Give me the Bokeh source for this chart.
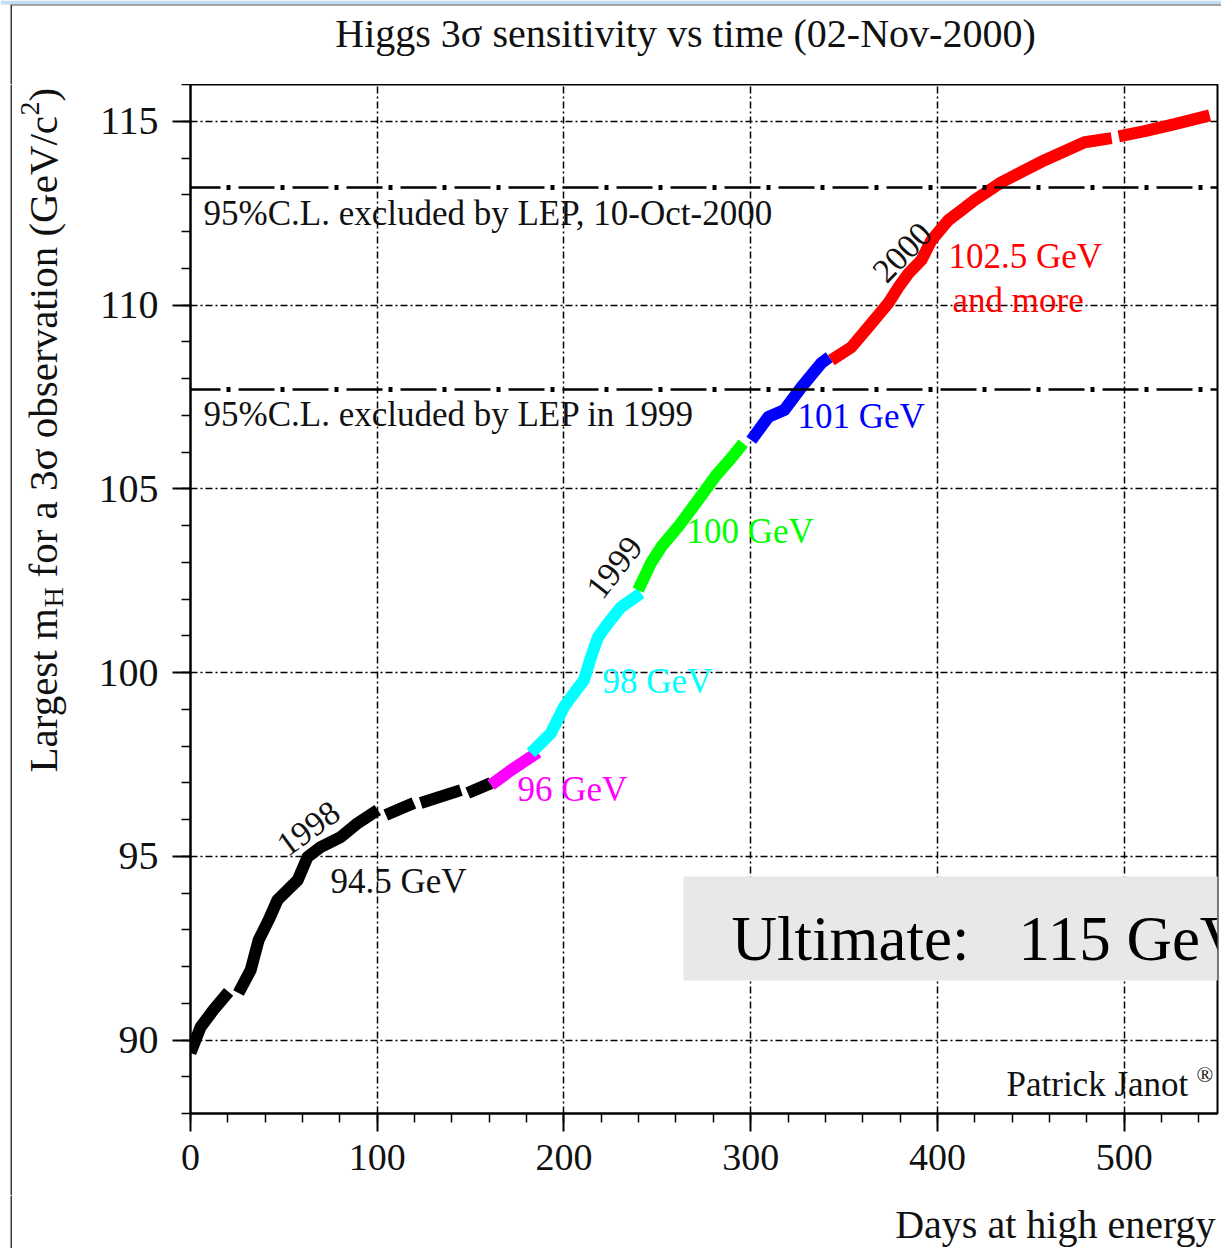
import math
from bokeh.plotting import figure
from bokeh.layouts import column, row
from bokeh.models import Label, BoxAnnotation, Span, FixedTicker, Range1d
from bokeh.embed import file_html
from bokeh.resources import INLINE

nan = float("nan")

# Sensitivity curve, split by centre-of-mass energy (days at high energy, GeV)
days_945 = [0, 5.4, 12.3, 20.4, nan, 25.7, 32.2, 36.5, 41.8, 46.6, 52.0, 57.4, 62.7,
            69.7, 80.4, 89.5, 100.3, nan, 104.6, 119.6, nan, 123.3, 144.8, nan, 148.5, 160.9]
mass_945 = [89.65, 90.35, 90.82, 91.31, nan, 91.28, 91.90, 92.72, 93.26, 93.81, 94.08, 94.35, 94.98,
            95.25, 95.52, 95.90, 96.26, nan, 96.12, 96.45, nan, 96.45, 96.80, nan, 96.72, 96.99]
days_96 = [160.9, 171.6, 186.1]
mass_96 = [96.94, 97.34, 97.83]
days_98 = [182.3, 193.0, 200.0, 203.8, 210.7, 214.5, 218.2, 223.6, 230.6, 241.3]
mass_98 = [97.81, 98.35, 99.06, 99.33, 99.79, 100.42, 100.96, 101.34, 101.78, 102.16]
days_100 = [239.7, 246.6, 252.0, 261.1, 271.8, 281.5, 289.5, 296.0]
mass_100 = [102.24, 102.98, 103.41, 103.96, 104.69, 105.37, 105.83, 106.24]
days_101 = [300.3, 309.4, 318.0, 327.1, 337.8, 342.1]
mass_101 = [106.32, 106.95, 107.14, 107.76, 108.42, 108.58]
days_1025 = [343.2, 353.9, 363.0, 373.7, 379.1, 384.5, 391.4, 396.8, 405.9, 412.9, 419.8,
             434.3, 457.4, 478.8, 493.3, nan, 497.1, 511.0, 527.1, 545.8]
mass_1025 = [108.50, 108.85, 109.40, 110.05, 110.48, 110.86, 111.22, 111.76, 112.31, 112.58, 112.85,
             113.34, 113.94, 114.43, 114.54, nan, 114.59, 114.73, 114.92, 115.16]

# LEP 95% C.L. exclusion limits (GeV)
lep_limit_1999 = 107.7
lep_limit_2000 = 113.2

x_major = [0, 100, 200, 300, 400, 500]
y_major = [90, 95, 100, 105, 110, 115]

# page geometry (pixels)
PAGE_W, PAGE_H = 1221, 1248
SIDE_W = 70                 # strip holding the vertical axis title
FRAME_L, FRAME_R = 190, 1217
FRAME_T, FRAME_B = 84, 1113
AXIS_H = 82                 # room under the frame for the x axis
MID_B = FRAME_B + AXIS_H    # bottom of the middle row
X0, X1 = 0, 550
Y0, Y1 = 88, 116

SERIF = "Liberation Serif"
INK = "#111111"
EDGE = "#3a3a3a"
EDGE_X = 10.75


def dx(px):
    return X0 + (px - FRAME_L) * (X1 - X0) / (FRAME_R - FRAME_L)


def dy(py):
    return Y0 + (FRAME_B - py) * (Y1 - Y0) / (FRAME_B - FRAME_T)


def strip(width, top, bottom):
    """Axis-less figure whose data space is the page's pixel space."""
    f = figure(width=width, height=bottom - top, output_backend="svg", toolbar_location=None,
               x_range=Range1d(0, width), y_range=Range1d(bottom, top),
               x_axis_location=None, y_axis_location=None, min_border=0, frame_align=False)
    f.grid.visible = False
    f.outline_line_color = None
    f.background_fill_color = "white"
    f.border_fill_color = "white"
    return f


def strip_text(f, x, y, text, size, align="left", angle=0.0):
    f.add_layout(Label(x=x, y=y, text=text, text_font=SERIF, text_font_size=f"{size}px",
                       text_color=INK, text_align=align, text_baseline="middle", angle=angle))


# ---------------------------------------------------------------- main plot
p = figure(width=PAGE_W - SIDE_W, height=MID_B - FRAME_T, output_backend="svg",
           toolbar_location=None, x_range=Range1d(X0, X1), y_range=Range1d(Y0, Y1),
           min_border_left=FRAME_L - SIDE_W, min_border_right=PAGE_W - FRAME_R,
           min_border_top=0, min_border_bottom=AXIS_H, frame_align=False)
p.background_fill_color = "white"
p.border_fill_color = "white"
p.outline_line_color = "black"
p.outline_line_width = 2

# axes
p.xaxis.ticker = FixedTicker(ticks=x_major, minor_ticks=list(range(0, 551, 20)))
p.yaxis.ticker = FixedTicker(ticks=y_major, minor_ticks=list(range(88, 117)))
for ax in (p.xaxis[0], p.yaxis[0]):
    ax.axis_line_width = 2
    ax.axis_line_color = "black"
    ax.major_tick_line_width = 2
    ax.minor_tick_line_width = 1.5
    ax.major_tick_line_color = "black"
    ax.minor_tick_line_color = "black"
    ax.major_tick_out = 18
    ax.major_tick_in = 0
    ax.minor_tick_out = 9
    ax.minor_tick_in = 0
    ax.major_label_text_font = SERIF
    ax.major_label_text_color = INK
p.xaxis.major_label_text_font_size = "38px"
p.yaxis.major_label_text_font_size = "40px"
p.xaxis.major_label_standoff = 13
p.yaxis.major_label_standoff = 14

# dash-dot grid
p.xgrid.ticker = FixedTicker(ticks=x_major[1:])
p.ygrid.ticker = FixedTicker(ticks=y_major)
for g in (p.xgrid[0], p.ygrid[0]):
    g.grid_line_color = "black"
    g.grid_line_width = 1.5
    g.grid_line_dash = "7 3 2 3"

# LEP exclusion lines: long dashes with heavy dots between them
for lim in (lep_limit_2000, lep_limit_1999):
    p.add_layout(Span(location=lim, dimension="width", line_color="black",
                      line_width=2.5, line_dash="36 18", line_dash_offset=6))
    p.add_layout(Span(location=lim, dimension="width", line_color="black",
                      line_width=5, line_dash="4 50", line_dash_offset=18))

# the sensitivity curve
segments = [
    (days_945, mass_945, "black"),
    (days_96, mass_96, "#ff00ff"),
    (days_98, mass_98, "#00ffff"),
    (days_100, mass_100, "#00ff00"),
    (days_101, mass_101, "#0000ff"),
    (days_1025, mass_1025, "#ff0000"),
]
for xs, ys, col in segments:
    p.line(xs, ys, line_color=col, line_width=12, line_join="round", line_cap="butt")


def label(px, py, text, size, color=INK, align="left", angle=0.0):
    p.add_layout(Label(x=dx(px), y=dy(py), text=text, text_font=SERIF,
                       text_font_size=f"{size}px", text_color=color, text_align=align,
                       text_baseline="middle", angle=angle))


# limit captions
label(203, 213, "95%C.L. excluded by LEP, 10-Oct-2000", 35)
label(203, 414, "95%C.L. excluded by LEP in 1999", 35)

# energy captions
label(330, 881, "94.5 GeV", 35)
label(517, 789, "96 GeV", 35, "#ff00ff")
label(602, 681, "98 GeV", 35, "#00ffff")
label(686, 531, "100 GeV", 35, "#00ff00")
label(797, 416, "101 GeV", 35, "#0000ff")
label(948, 256, "102.5 GeV", 35, "#ff0000")
label(952, 300, "and more", 35, "#ff0000")

# year markers
label(308, 828, "1998", 34, align="center", angle=math.radians(36))
label(614, 567, "1999", 34, align="center", angle=math.radians(52))
label(902, 252, "2000", 34, align="center", angle=math.radians(46))

# author credit
label(1006, 1084, "Patrick Janot", 35)
label(1196, 1074, "®", 22)

# highlighted result box
p.add_layout(BoxAnnotation(left=dx(683), right=dx(1260), top=dy(876), bottom=dy(980),
                           fill_color="#e8e8e8", fill_alpha=1.0, line_alpha=0.0))
label(731, 938, "Ultimate:", 63, color="black")
label(1018, 938, "115 GeV", 63, color="black")

# ---------------------------------------------------------------- header: slide edge + title
top = strip(PAGE_W, 0, FRAME_T)
top.quad(left=[0], right=[PAGE_W], top=[0], bottom=[4], fill_color="#c4dcf4", line_color=None)
top.segment(x0=[10], y0=[4.5], x1=[PAGE_W], y1=[4.5], line_color="#555555", line_width=1.2)
top.segment(x0=[EDGE_X], y0=[4.5], x1=[EDGE_X], y1=[FRAME_T], line_color=EDGE, line_width=1.5)
strip_text(top, 685, 33, "Higgs 3σ sensitivity vs time (02-Nov-2000)", 40, align="center")

# ---------------------------------------------------------------- side: vertical axis title
side = strip(SIDE_W, FRAME_T, MID_B)
side.segment(x0=[EDGE_X], y0=[FRAME_T], x1=[EDGE_X], y1=[MID_B], line_color=EDGE, line_width=1.5)
vx = 42
half_pi = math.pi / 2
strip_text(side, vx, 772, "Largest m", 41, angle=half_pi)
strip_text(side, vx + 11, 607, "H", 28, angle=half_pi)
strip_text(side, vx, 577, "for a 3σ observation (GeV/c", 41, angle=half_pi)
strip_text(side, vx - 13, 115, "2", 28, angle=half_pi)
strip_text(side, vx, 101, ")", 41, angle=half_pi)

# ---------------------------------------------------------------- footer: x axis title
bottom = strip(PAGE_W, MID_B, PAGE_H)
bottom.segment(x0=[EDGE_X], y0=[MID_B], x1=[EDGE_X], y1=[PAGE_H], line_color=EDGE, line_width=1.5)
strip_text(bottom, 1215, 1224, "Days at high energy", 40, align="right")

layout = column(top, row(side, p, spacing=0), bottom, spacing=0)
open("out.html", "w").write(file_html(layout, INLINE))
